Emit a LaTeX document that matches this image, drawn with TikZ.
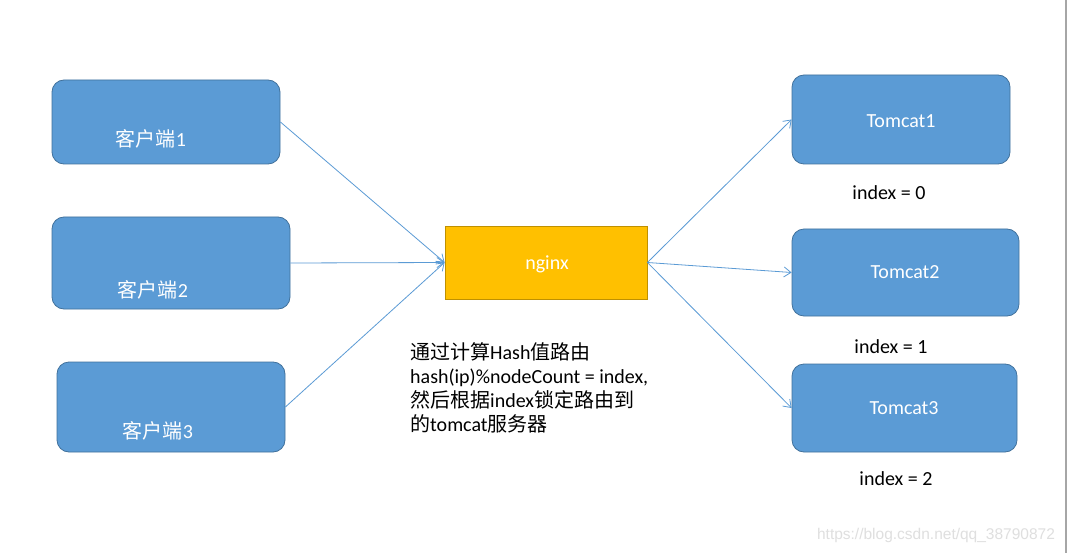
\documentclass[tikz,border=0pt]{standalone}
\usepackage{fontspec}
\setmainfont{Carlito}
\newfontfamily\cjk{Noto Sans CJK SC}
\newfontfamily\wmfont{Liberation Sans}
\usetikzlibrary{arrows.meta}
\definecolor{boxblue}{HTML}{5B9BD5}
\definecolor{boxedge}{HTML}{41719C}
\definecolor{ngfill}{HTML}{FFC000}
\definecolor{ngedge}{HTML}{BF9000}
\tikzset{
  bluebox/.style={draw=boxedge, fill=boxblue, rounded corners=12pt, line width=0.8pt, inner sep=0pt},
  boxtext/.style={text=white, font=\fontsize{20}{23}\selectfont, inner sep=0pt},
  conn/.style={draw=boxblue, line width=0.8pt, -{Straight Barb[length=7pt,width=10pt]}},
  idx/.style={font=\fontsize{20}{23}\selectfont, inner sep=0pt},
}
\begin{document}
\begin{tikzpicture}[x=1pt,y=-1pt]
\useasboundingbox (0,0) rectangle (1067,553);
\fill[white] (0,0) rectangle (1067,553);
\draw[gray!70, line width=1.2pt] (1066,0) coordinate (gtop) -- (1066,553) coordinate (gbot);

% clients
\node[bluebox, minimum width=228pt, minimum height=84pt] (c1) at (166,122) {};
\node[bluebox, minimum width=238pt, minimum height=92pt] (c2) at (171,263) {};
\node[bluebox, minimum width=228pt, minimum height=90pt] (c3) at (171,407) {};
\node[boxtext] (c1t) at (151,139) {\cjk 客户端\normalfont 1};
\node[boxtext] (c2t) at (153,290) {\cjk 客户端\normalfont 2};
\node[boxtext] (c3t) at (158,431) {\cjk 客户端\normalfont 3};

% nginx
\node[draw=ngedge, fill=ngfill, line width=0.8pt, minimum width=202pt, minimum height=73pt, inner sep=0pt] (ng) at (546,262.5) {};
\node[boxtext] (ngt) at (547,264) {nginx};

% tomcats
\node[bluebox, minimum width=218pt, minimum height=89pt] (t1) at (901,119.5) {};
\node[bluebox, minimum width=227pt, minimum height=87pt] (t2) at (905.5,272.5) {};
\node[bluebox, minimum width=225pt, minimum height=88pt] (t3) at (904.5,408) {};
\node[boxtext] (t1t) at (901,121) {Tomcat1};
\node[boxtext] (t2t) at (905,272) {Tomcat2};
\node[boxtext] (t3t) at (904,408) {Tomcat3};

\node[idx] (i0) at (889,193) {index = 0};
\node[idx] (i1) at (891,347) {index = 1};
\node[idx] (i2) at (896,479) {index = 2};

% explanation
\node[anchor=north west, align=left, inner sep=0pt, font=\fontsize{20}{24}\selectfont] (expl) at (410,342)
{{\cjk 通过计算}Hash{\cjk 值路由}\\
hash(ip)\%nodeCount = index,\\
{\cjk 然后根据}index{\cjk 锁定路由到}\\
{\cjk 的}tomcat{\cjk 服务器}};

% watermark
\node[text=gray!25, font=\wmfont\fontsize{15.5}{18}\selectfont, inner sep=0pt] (wm) at (936,535) {https://blog.csdn.net/qq\_38790872};

% connectors
\draw[conn] (c1.east) -- (ng.west);
\draw[conn] (c2.east) -- (ng.west);
\draw[conn] (c3.east) -- (ng.west);
\draw[conn] (ng.east) -- (t1.west);
\draw[conn] (ng.east) -- (t2.west);
\draw[conn] (ng.east) -- (t3.west);
\end{tikzpicture}
\end{document}
